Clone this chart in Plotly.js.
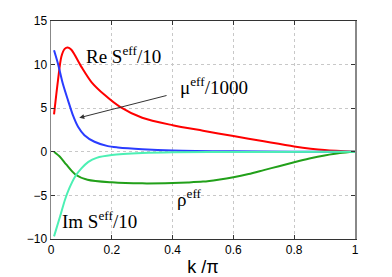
<!DOCTYPE html>
<html>
<head>
<meta charset="utf-8">
<script src="https://cdn.plot.ly/plotly-3.0.1.min.js"></script>
<style>html,body{margin:0;padding:0;background:#fff;}#chart{width:392px;height:277px;}</style>
</head>
<body>
<div id="chart"></div>
<script>
const reX = [0.01,0.023,0.034,0.045,0.055,0.067,0.1,0.133,0.177,0.227,0.3,0.4,0.5,0.6,0.7,0.8,0.9,1.0];
const reY = [4.3,8.2,10.9,11.8,11.95,11.7,9.74,8.0,6.5,5.15,3.9,3.05,2.42,1.8,1.2,0.62,0.2,0];
const muX = [0.01,0.023,0.039,0.056,0.072,0.089,0.11,0.143,0.187,0.22,0.3,0.4,0.6,0.8,1.0];
const muY = [11.65,10.1,7.8,5.9,4.2,2.87,1.9,1.15,0.65,0.5,0.3,0.15,0.05,0.02,0];
const rhoX = [0.01,0.03,0.05,0.08,0.12,0.2,0.3,0.4,0.45,0.5,0.55,0.6,0.65,0.7,0.75,0.8,0.85,0.9,0.95,1.0];
const rhoY = [0,-0.6,-1.45,-2.6,-3.2,-3.5,-3.62,-3.58,-3.52,-3.42,-3.2,-2.92,-2.55,-2.1,-1.65,-1.2,-0.78,-0.42,-0.14,0];
const imX = [0.01,0.03,0.046,0.06,0.08,0.1,0.123,0.15,0.2,0.3,0.4,0.6,1.0];
const imY = [-9.7,-7.4,-5.5,-4.2,-2.8,-1.9,-1.15,-0.7,-0.38,-0.15,-0.05,-0.02,0];
const xTicks = [0,0.2,0.4,0.6,0.8,1];
const xTickText = ['0','0.2','0.4','0.6','0.8','1'];
const yTicks = [-10,-5,0,5,10,15];

function tr(x,y,c){return {x:x,y:y,type:'scatter',mode:'lines',line:{color:c,width:2,shape:'spline',smoothing:0.8},hoverinfo:'skip'};}
const data = [
  tr(reX,reY,'#ff0000'),
  tr(muX,muY,'#2a3cff'),
  tr(rhoX,rhoY,'#22a01a'),
  tr(imX,imY,'#4cf0b4')
];
const serif = {family:'Liberation Serif, Times New Roman, serif', size:19, color:'#000'};
const layout = {
  width:392, height:277,
  margin:{l:51,r:37,t:21,b:38,pad:0},
  paper_bgcolor:'#fff', plot_bgcolor:'#fff',
  showlegend:false,
  font:{family:'Liberation Sans, Arial, sans-serif', size:12, color:'#000'},
  xaxis:{range:[0,1], tickvals:xTicks, ticktext:xTickText, ticks:'inside', ticklen:4, tickcolor:'#333',
    showgrid:true, gridcolor:'#c8c8c8', griddash:'dot', gridwidth:1, zeroline:false,
    showline:true, mirror:'ticks', linecolor:'#333', linewidth:1,
    title:{text:'k /π', font:{size:18}, standoff:6}},
  yaxis:{range:[-10,15], tickvals:yTicks, ticks:'inside', ticklen:4, tickcolor:'#333',
    showgrid:true, gridcolor:'#c8c8c8', griddash:'dot', gridwidth:1, zeroline:false,
    showline:true, mirror:'ticks', linecolor:'#888', linewidth:1.5},
  annotations:[
    {x:0.24, y:11.1, xref:'x', yref:'y', text:'Re S<sup>eff</sup>/10', showarrow:false, font:serif},
    {x:0.535, y:7.6, xref:'x', yref:'y', text:'μ<sup>eff</sup>/1000', showarrow:false, font:serif},
    {x:0.093, y:3.9, xref:'x', yref:'y', ax:0.385, ay:6.5, axref:'x', ayref:'y', text:'', showarrow:true,
      arrowhead:2, arrowsize:1, arrowwidth:1, arrowcolor:'#333'},
    {x:0.454, y:-5.3, xref:'x', yref:'y', text:'ρ<sup>eff</sup>', showarrow:false, font:serif},
    {x:0.161, y:-7.8, xref:'x', yref:'y', text:'Im S<sup>eff</sup>/10', showarrow:false, font:serif}
  ]
};
Plotly.newPlot('chart', data, layout, {staticPlot:true, displayModeBar:false});
</script>
</body>
</html>
